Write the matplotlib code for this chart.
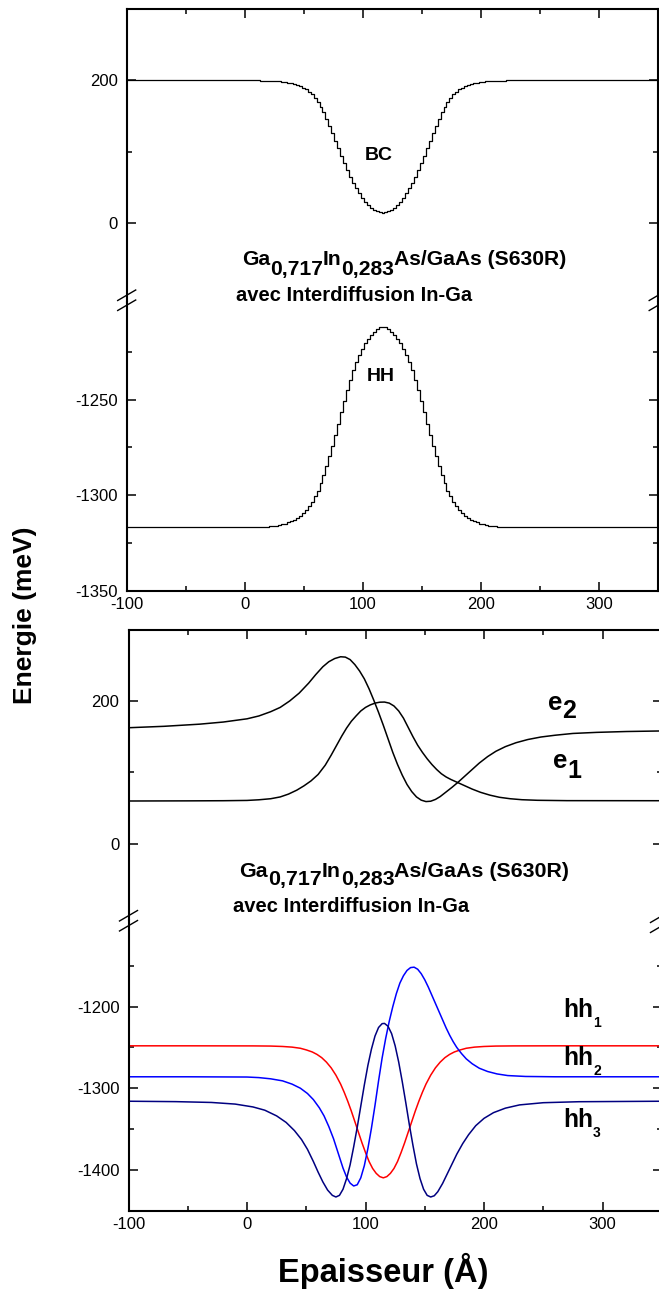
import matplotlib
matplotlib.use('Agg')
import matplotlib.pyplot as plt
from matplotlib.ticker import FixedLocator
from matplotlib.lines import Line2D

plt.rcParams['font.family'] = ['Liberation Sans', 'DejaVu Sans']
plt.rcParams['axes.unicode_minus'] = False

# ---------------- data ----------------
# Top panel: band-edge profiles (staircase), thickness in Angstrom
pos_band = [-100, 12, 14.5, 17, 19.5, 22, 24.5, 27, 29.5, 32, 34.5, 37, 39.5, 42, 44.5, 47,
            49.5, 52, 54.5, 57, 59.5, 62, 64.5, 67, 69.5, 72, 74.5, 77, 79.5, 82, 84.5, 87,
            89.5, 92, 94.5, 97, 99.5, 102, 104.5, 107, 109.5, 112, 114.5, 117, 119.5, 122,
            124.5, 127, 129.5, 132, 134.5, 137, 139.5, 142, 144.5, 147, 149.5, 152, 154.5,
            157, 159.5, 162, 164.5, 167, 169.5, 172, 174.5, 177, 179.5, 182, 184.5, 187,
            189.5, 192, 194.5, 197, 199.5, 202, 204.5, 207, 209.5, 212, 214.5, 217, 219.5,
            222, 350]
bc = [200, 200, 199.9, 199.8, 199.7, 199.5, 199.3, 199.1, 198.8, 198.3, 197.7, 197, 196.1,
      195, 193.7, 192.1, 190.1, 187.6, 184.5, 180.7, 176, 170.3, 163.4, 155.5, 146.5, 136.8,
      126.3, 115.5, 104.9, 94.3, 84.3, 74.5, 65.4, 56.8, 49, 42, 35.8, 30.3, 25.8, 22, 19.2,
      17, 15.5, 15, 15.5, 17, 19.2, 22, 25.8, 30.3, 35.8, 42, 49, 56.8, 65.4, 74.5, 84.3,
      94.3, 104.9, 115.5, 126.3, 136.8, 146.5, 155.5, 163.4, 170.3, 176, 180.7, 184.5,
      187.6, 190.1, 192.1, 193.7, 195, 196.1, 197, 197.7, 198.3, 198.8, 199.1, 199.3,
      199.5, 199.7, 199.8, 199.9, 200, 200]
hh_band = [-1316.5, -1316.5, -1316.5, -1316.4, -1316.3, -1316.2, -1316, -1315.8, -1315.5,
           -1315.2, -1314.8, -1314.2, -1313.5, -1312.7, -1311.8, -1310.6, -1309.2, -1307.6,
           -1305.7, -1303.5, -1300.6, -1297.5, -1293.7, -1289.5, -1284.7, -1279.5, -1274.1,
           -1268.5, -1262.5, -1256.5, -1250.7, -1245, -1239.5, -1234.5, -1230.3, -1226.5,
           -1223.3, -1220.5, -1218.2, -1216.2, -1214.5, -1213.3, -1212.3, -1212, -1212.3,
           -1213.3, -1214.5, -1216.2, -1218.2, -1220.5, -1223.3, -1226.5, -1230.3, -1234.5,
           -1239.5, -1245, -1250.7, -1256.5, -1262.5, -1268.5, -1274.1, -1279.5, -1284.7,
           -1289.5, -1293.7, -1297.5, -1300.6, -1303.5, -1305.7, -1307.6, -1309.2, -1310.6,
           -1311.8, -1312.7, -1313.5, -1314.2, -1314.8, -1315.2, -1315.5, -1315.8, -1316,
           -1316.2, -1316.3, -1316.4, -1316.5, -1316.5, -1316.5]

# Bottom panel: electron states
e1_x = [-100, -50, -20, 0, 10, 20, 28, 35, 42, 48, 54, 60, 66, 71, 76, 80, 84, 88, 92, 96,
        100, 104, 108, 112, 116, 120, 124, 128, 132, 136, 140, 144, 148, 152, 156, 160, 164,
        168, 172, 178, 184, 190, 197, 205, 213, 222, 232, 245, 270, 350]
e1_y = [59.8, 60, 60.2, 60.6, 61.5, 63, 65.5, 69.5, 75, 81, 88, 97, 110, 124, 139, 151,
        162, 171.5, 179, 186, 191, 194.5, 197, 198.3, 198.5, 197, 193, 186, 176, 163, 150,
        138, 128, 119, 111, 104, 98, 93.5, 90, 85.5, 81, 76.5, 72, 68, 65, 63, 61.6, 60.8,
        60.3, 60.2]
e2_x = [-100, -70, -40, -20, 0, 10, 20, 28, 36, 44, 52, 58, 64, 69, 74, 79, 83, 87, 91, 95,
        99, 103, 107, 111, 115, 119, 123, 127, 131, 135, 139, 143, 147, 151, 155, 159, 163,
        168, 173, 178, 184, 190, 196, 203, 210, 218, 227, 237, 248, 260, 275, 295, 320, 350]
e2_y = [162.5, 164.5, 167.5, 170.5, 175, 179, 185, 191, 200, 211, 225, 237, 248, 255,
        259.5, 262, 261.5, 258, 251, 242, 231, 217, 201, 184, 166, 147, 128, 111, 96, 83,
        73, 65.5, 61, 59, 59.5, 62, 66, 72.5, 79, 86, 95, 104, 113, 122, 129.5, 136, 141.5,
        146, 149.5, 152, 154.5, 156, 157.2, 158]

# Bottom panel: heavy-hole states
hh1_x = [-100, -50, 5, 20, 30, 38, 45, 50, 55, 59, 63, 67, 71, 75, 79, 82, 85, 88, 91, 94,
         97, 100, 103, 106, 109, 112, 115, 118, 121, 124, 127, 130, 133, 136, 139, 142, 145,
         148, 151, 155, 159, 163, 167, 171, 175, 180, 185, 192, 200, 210, 225, 260, 350]
hh1_y = [-1248, -1248, -1248.1, -1248.3, -1248.8, -1249.6, -1251, -1253, -1255.5,
         -1258.5, -1262.5, -1268, -1275, -1284, -1295, -1305, -1316, -1328, -1341, -1354,
         -1367, -1379, -1390, -1398.5, -1404.5, -1408.5, -1410, -1408.5, -1404.5, -1398.5,
         -1390, -1379, -1367, -1354, -1341, -1328, -1316, -1305, -1295, -1284, -1275, -1268,
         -1262.5, -1258.5, -1255.5, -1253, -1251, -1249.6, -1248.8, -1248.3, -1248.1,
         -1248, -1248]
hh2_x = [-100, -50, 0, 10, 20, 30, 38, 45, 51, 56, 61, 65, 69, 73, 77, 81, 84, 87, 90, 93,
         96, 99, 102, 105, 108, 111, 114, 117, 120, 123, 126, 129, 132, 135, 138, 141, 144,
         147, 150, 153, 156, 159, 162, 165, 168, 171, 174, 177, 181, 185, 190, 196, 203, 211,
         220, 235, 260, 350]
hh2_y = [-1286, -1286, -1286.3, -1287, -1288.5, -1291, -1295, -1300, -1306.5, -1314, -1324,
         -1334, -1347, -1362, -1380, -1398, -1409, -1416.5, -1420, -1418.5, -1410, -1395,
         -1374, -1349, -1321, -1291, -1263, -1239, -1218, -1200, -1184, -1171, -1162,
         -1155.5, -1152, -1151.5, -1154, -1159.5, -1167, -1176, -1186, -1196, -1206, -1216,
         -1226, -1235, -1243, -1250, -1257.5, -1264, -1270, -1275.5, -1279.5, -1282.5,
         -1284.5, -1285.6, -1286, -1286]
hh3_x = [-100, -60, -30, -10, 5, 15, 25, 33, 40, 46, 51, 56, 60, 64, 68, 72, 75, 78, 81, 84,
         87, 90, 93, 96, 99, 102, 105, 108, 111, 114, 116, 119, 122, 125, 128, 131, 134, 137,
         140, 143, 146, 149, 152, 155, 158, 161, 165, 169, 173, 177, 182, 187, 193, 200, 208,
         218, 230, 250, 280, 350]
hh3_y = [-1316, -1316.5, -1317.5, -1319.5, -1323, -1327, -1334, -1342, -1352, -1363, -1375,
         -1390, -1403, -1415, -1425, -1431.5, -1433.5, -1431.5, -1424, -1411, -1394, -1372,
         -1348, -1322, -1296, -1272, -1252, -1236, -1225.5, -1220.8, -1220.5, -1224, -1233,
         -1248, -1268, -1292, -1318, -1345, -1370, -1393, -1411, -1424, -1431.5, -1433.5,
         -1432, -1427, -1417, -1405, -1393, -1381, -1368, -1357, -1346, -1337, -1330,
         -1324.5, -1320.5, -1317.8, -1316.6, -1316]

x_major = [-100, 0, 100, 200, 300]
x_minor = [-50, 50, 150, 250]

# ---------------- figure ----------------
W, H = 659, 1289
fig = plt.figure(figsize=(W / 100, H / 100), dpi=100)
fig.patch.set_facecolor('white')


def ax_px(left, right, top, bottom):
    return fig.add_axes([left / W, 1 - bottom / H, (right - left) / W, (bottom - top) / H])


def style(ax, ymaj, ymin, upper):
    ax.set_xlim(-100, 350)
    for sp in ax.spines.values():
        sp.set_linewidth(1.5)
    ax.xaxis.set_major_locator(FixedLocator(x_major))
    ax.xaxis.set_minor_locator(FixedLocator(x_minor))
    ax.yaxis.set_major_locator(FixedLocator(ymaj))
    ax.yaxis.set_minor_locator(FixedLocator(ymin))
    ax.tick_params(which='both', direction='in', left=True, right=True,
                   top=upper, bottom=not upper, labelbottom=not upper,
                   labeltop=False, labelright=False, labelsize=12, width=1.1)
    ax.tick_params(which='major', length=6.5)
    ax.tick_params(which='minor', length=3.6)
    ax.tick_params(axis='y', pad=6.5)
    ax.tick_params(axis='x', pad=4)
    if upper:
        ax.spines['bottom'].set_visible(False)
    else:
        ax.spines['top'].set_visible(False)


# top panel
a1u = ax_px(126.7, 658.2, 9, 302)
a1l = ax_px(126.7, 658.2, 302, 591)
a1u.plot(pos_band, bc, color='black', lw=0.9, drawstyle='steps-mid')
a1l.plot(pos_band, hh_band, color='black', lw=0.9, drawstyle='steps-mid')
a1u.set_ylim(-110, 300)
a1l.set_ylim(-1350, -1199)
style(a1u, [0, 200], [100], True)
style(a1l, [-1350, -1300, -1250], [-1325, -1275, -1225], False)

# bottom panel
a2u = ax_px(128.5, 661.8, 630, 920)
a2l = ax_px(128.5, 661.8, 920, 1211)
a2u.plot(e1_x, e1_y, color='black', lw=1.1)
a2u.plot(e2_x, e2_y, color='black', lw=1.1)
a2l.plot(hh1_x, hh1_y, color='#ff0000', lw=1.1)
a2l.plot(hh2_x, hh2_y, color='#0000ff', lw=1.1)
a2l.plot(hh3_x, hh3_y, color='#000080', lw=1.1)
a2u.set_ylim(-107, 299.5)
a2l.set_ylim(-1450.7, -1093.6)
style(a2u, [0, 200], [100], True)
style(a2l, [-1400, -1300, -1200], [-1350, -1250, -1150], False)


def fline(x0, y0, x1, y1):
    fig.add_artist(Line2D([x0 / W, x1 / W], [1 - y0 / H, 1 - y1 / H],
                          transform=fig.transFigure, color='black', lw=1.0))


def break_mark(xc, yc):
    fline(xc - 9, yc + 0.5, xc + 9, yc - 10)
    fline(xc - 9, yc + 10.5, xc + 9, yc)


break_mark(126.7, 300)
break_mark(658.2, 300)
break_mark(128.5, 920.5)
break_mark(659.5, 922)

renderer = fig.canvas.get_renderer()


def rich(x_px, y_px, pieces):
    x = x_px
    for s, size, dy in pieces:
        t = fig.text(x / W, 1 - (y_px + dy) / H, s, fontsize=size, fontweight='bold',
                     ha='left', va='baseline')
        x += t.get_window_extent(renderer=renderer).width


def title_block(x1, y1, x2, y2, size1, size2, sub_dy):
    rich(x1, y1, [("Ga", size1, 0), ("0,717", size1, sub_dy), ("In", size1, 0),
                  ("0,283", size1, sub_dy), ("As/GaAs (S630R)", size1, 0)])
    rich(x2, y2, [("avec Interdiffusion In-Ga", size2, 0)])


title_block(241.7, 265, 236, 301, 15.2, 14.5, 9.5)
title_block(239.3, 877, 233, 912, 15.4, 14.5, 8.5)

fig.text(379 / W, 1 - 155 / H, "BC", fontsize=14, fontweight='bold', ha='center', va='center')
fig.text(381 / W, 1 - 377 / H, "HH", fontsize=14, fontweight='bold', ha='center', va='center')

rich(548, 710, [("e", 18.5, 0), ("2", 18, 8)])
rich(553, 768, [("e", 18.5, 0), ("1", 18, 10)])
rich(563, 1017, [("hh", 17.7, 0), ("1", 10, 10)])
rich(563, 1065, [("hh", 17.7, 0), ("2", 10, 10)])
rich(563, 1127, [("hh", 17.7, 0), ("3", 10, 10)])

fig.text(31.7 / W, 1 - 615 / H, "Energie (meV)", fontsize=19, fontweight='bold',
         rotation=90, rotation_mode='anchor', ha='center', va='baseline')
fig.text(383.5 / W, 1 - 1282 / H, "Epaisseur (Å)", fontsize=23.5, fontweight='bold',
         ha='center', va='baseline')

fig.savefig('out.png', dpi=100, facecolor='white')
